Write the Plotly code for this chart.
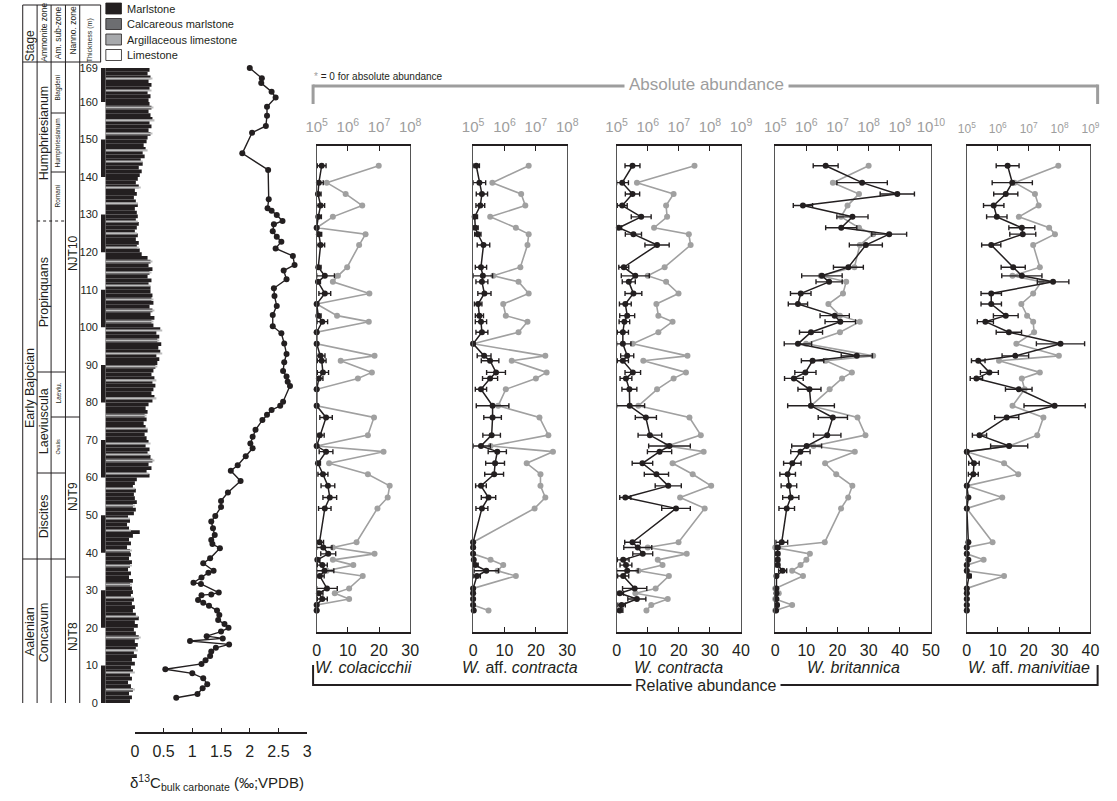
import plotly.graph_objects as go

# ======================= DATA =======================
thickness_ticks = [0, 10, 20, 30, 40, 50, 60, 70, 80, 90, 100, 110, 120, 130, 140, 150, 160, 169]

d13c_height = [1.4, 2.4, 3.9, 5.0, 6.6, 7.9, 9.0, 10.4, 11.4, 12.5, 13.7, 14.7, 15.6, 16.5, 17.2, 17.8,
               19.0, 20.0, 21.0, 22.1, 23.4, 24.6, 25.9, 26.7, 27.4, 28.7, 28.9, 29.4, 31.7, 32.0, 33.4,
               34.7, 35.2, 37.2, 38.5, 41.2, 42.3, 43.4, 44.7, 46.5, 48.3, 49.8, 52.2, 53.8, 56.0, 59.1,
               61.8, 63.3, 65.7, 67.8, 69.1, 70.9, 72.7, 75.3, 76.7, 78.0, 79.1, 80.2, 84.4, 85.5, 86.9,
               88.4, 90.7, 92.9, 95.7, 98.4, 100.3, 103.3, 105.7, 108.3, 110.4, 112.8, 115.1, 116.6,
               119.0, 121.0, 122.8, 124.1, 125.6, 127.4, 128.3, 129.9, 131.0, 131.7, 134.1, 141.9,
               146.3, 151.8, 153.6, 156.3, 158.7, 161.2, 162.7, 165.0, 166.3, 169.0]
d13c_value = [0.72, 1.09, 1.18, 1.26, 1.19, 1.00, 0.53, 1.16, 1.23, 1.31, 1.33, 1.41, 1.64, 0.96, 1.53, 1.25,
              1.50, 1.63, 1.56, 1.45, 1.47, 1.43, 1.29, 1.19, 1.10, 1.16, 1.33, 1.46, 1.15, 1.02, 1.16,
              1.28, 1.37, 1.19, 1.31, 1.48, 1.35, 1.33, 1.39, 1.36, 1.33, 1.40, 1.50, 1.50, 1.62, 1.84,
              1.67, 1.79, 1.93, 2.05, 2.01, 2.05, 2.10, 2.22, 2.30, 2.38, 2.53, 2.58, 2.70, 2.66, 2.64,
              2.58, 2.60, 2.64, 2.60, 2.55, 2.40, 2.40, 2.47, 2.43, 2.42, 2.64, 2.59, 2.78,
              2.75, 2.45, 2.55, 2.47, 2.40, 2.42, 2.57, 2.47, 2.38, 2.31, 2.33, 2.32,
              1.87, 2.04, 2.28, 2.30, 2.30, 2.45, 2.38, 2.20, 2.21, 2.00]

# lithology log width (relative units), one value per metre from 0 m upward
lith_width = [25, 27, 24, 28, 26, 23, 27, 25, 28, 26,
              30, 27, 32, 29, 31, 33, 30, 34, 31, 29,
              33, 30, 34, 31, 28, 30, 27, 29, 26, 28,
              27, 25, 28, 24, 26, 23, 25, 27, 24, 26,
              25, 22, 26, 24, 28, 35, 24, 22, 25, 23,
              29, 31, 28, 32, 30, 29, 31, 28, 30, 32,
              45, 42, 47, 44, 48, 46, 43, 45, 41, 44,
              42, 40, 43, 41, 39, 42, 40, 43, 41, 44,
              48, 50, 47, 49, 51, 48, 50, 47, 49, 51,
              53, 55, 52, 56, 54, 57, 53, 55, 52, 56,
              49, 47, 50, 46, 48, 45, 49, 47, 48, 46,
              46, 44, 47, 43, 45, 48, 44, 46, 43, 37,
              35, 32, 34, 31, 33, 30, 32, 34, 31, 33,
              32, 30, 33, 31, 29, 32, 30, 34, 31, 33,
              35, 37, 34, 38, 36, 40, 38, 41, 39, 42,
              43, 46, 44, 47, 45, 48, 46, 44, 47, 45,
              44, 46, 43, 45, 47, 44, 46, 43, 45]
limestone_beds = [3.5, 8.2, 14.1, 17.5, 23.0, 28.2, 31.5, 36.5, 40.5, 46.0, 49.2, 52.5, 57.1, 61.0,
                  64.5, 66.2, 69.1, 73.0, 76.5, 81.2, 86.0, 89.5, 93.1, 96.5, 99.2, 101.5, 104.5,
                  107.5, 111.2, 114.5, 117.5, 121.2, 125.1, 128.2, 133.1, 137.2, 144.1, 147.2,
                  151.5, 155.2, 158.5, 163.1, 166.2]

legend_labels = ["Marlstone", "Calcareous marlstone", "Argillaceous limestone", "Limestone"]
legend_colors = ["#231f20", "#6d6e71", "#a7a9ac", "#ffffff"]

sample_height = [143.0, 138.5, 135.5, 132.4, 129.4, 126.5, 124.8, 121.9, 116.0, 113.7, 112.1, 109.0,
                 106.2, 103.1, 101.5, 98.7, 95.6, 92.4, 91.1, 88.0, 86.4, 83.5, 79.1, 76.0, 71.3, 68.4,
                 66.9, 63.8, 60.9, 57.8, 54.7, 51.8, 42.8, 41.4, 39.7, 38.1, 36.7, 35.2, 33.8, 30.5,
                 29.2, 27.7, 26.1, 24.6]

# W. colacicchii
colacicchii_abs = [9.8e6, 2.1e5, 8.5e5, 2.9e6, 3.3e5, 0, 3.7e6, 2.3e6, 9.5e5, 4.8e5, 3.3e5, 4.9e6, 0,
                   4.5e5, 4.7e6, 0, 0, 7.2e6, 5.9e5, 5.9e6, 2.1e6, 0, 0, 6.9e6, 4.4e6, 0, 1.4e7, 2.5e5,
                   4.4e6, 2.2e7, 1.9e7, 8.9e6, 1.9e6, 3.3e5, 7.2e6, 3.3e5, 1.5e6, 2.1e5, 3.0e6, 1.1e6,
                   3.8e5, 1.1e6, 0, 0]
colacicchii_rel = [1.6, 0.7, 0.4, 1.25, 0.5, 0, 0.7, 1.25, 0.5, 2.6, 0.4, 2.6, 0, 0.5, 1.8, 0, 0, 1.25,
                   1.6, 2.0, 0.7, 0, 0, 3.0, 1.0, 0, 3.0, 0.4, 2.0, 3.6, 4.2, 2.6, 0.9, 2.1, 3.7, 0.2,
                   1.8, 2.5, 1.0, 3.3, 0.7, 1.8, 0, 0]
colacicchii_err = [1.4, 1.4, 1.0, 1.3, 1.0, 0, 0.9, 1.3, 0.9, 3.1, 0.8, 1.9, 0, 0.9, 1.7, 0, 0, 1.4,
                   1.4, 1.8, 1.3, 0, 0, 2.0, 1.4, 0, 2.2, 0.8, 1.6, 2.2, 2.2, 2.0, 1.3, 2.8, 2.4, 0.8,
                   1.6, 3.0, 1.4, 3.3, 1.3, 1.6, 0, 0]

# W. aff. contracta
affcontracta_abs = [5.9e6, 4.1e5, 3.4e6, 4.6e6, 3.5e5, 2.3e6, 5.9e6, 5.4e6, 3.2e6, 4.4e5, 2.8e6, 5.9e6,
                    9.1e5, 1.1e6, 5.4e6, 2.8e6, 0, 2.0e7, 1.7e6, 2.2e7, 1.0e7, 1.1e6, 6.3e5, 1.3e7,
                    2.5e7, 3.6e5, 3.5e7, 5.1e6, 1.4e7, 1.4e7, 2.0e7, 9.1e6, 0, 0, 0, 3.6e5, 9.1e5,
                    6.0e5, 2.3e6, 0, 0, 0, 0, 3.1e5]
affcontracta_rel = [1.0, 2.0, 2.8, 2.3, 0.5, 0.7, 1.5, 3.3, 2.5, 3.1, 2.8, 3.6, 1.6, 2.0, 2.5, 2.8, 0,
                    3.5, 5.4, 7.3, 5.4, 2.5, 6.2, 6.2, 5.9, 2.5, 7.7, 7.0, 6.7, 2.5, 4.9, 2.8, 0, 0, 0,
                    0.2, 0.7, 4.2, 1.2, 0, 0, 0, 0, 0.2]
affcontracta_err = [1.0, 2.0, 1.8, 1.4, 0.9, 0.9, 1.0, 2.0, 1.8, 3.1, 1.9, 2.1, 1.2, 1.3, 1.8, 1.9, 0,
                    2.2, 2.8, 3.0, 2.4, 1.8, 5.2, 2.8, 2.8, 3.0, 2.9, 3.0, 3.0, 1.7, 2.3, 1.9, 0, 0, 0,
                    0.3, 0.9, 3.9, 1.1, 0, 0, 0, 0, 0.3]

# W. contracta
contracta_abs = [3.2e7, 4.5e5, 6.8e6, 3.9e6, 4.2e6, 1.6e6, 2.1e7, 2.4e7, 3.5e6, 1.0e6, 3.9e6, 9.8e6,
                 1.9e6, 2.2e6, 6.3e6, 2.2e6, 3.3e5, 1.9e7, 7.2e5, 1.7e7, 6.8e6, 2.0e6, 5.0e5, 2.2e7,
                 5.1e7, 4.2e6, 6.3e7, 6.3e6, 2.8e7, 1.1e8, 1.1e7, 6.8e7, 9.8e6, 1.0e6, 1.8e7, 2.1e6,
                 3.0e6, 5.0e5, 4.8e6, 1.8e6, 4.0e5, 4.4e6, 1.3e6, 9.1e5]
contracta_rel = [5.1, 1.8, 5.1, 1.8, 7.9, 0.7, 5.4, 13.0, 2.3, 6.0, 3.9, 5.4, 2.8, 3.4, 2.5, 2.0, 2.0,
                 3.4, 2.0, 5.2, 3.0, 4.1, 4.2, 9.4, 10.7, 17.0, 13.8, 8.3, 12.8, 16.6, 2.8, 19.1, 5.1,
                 6.8, 8.4, 2.1, 3.0, 3.4, 2.1, 5.8, 1.0, 6.5, 1.6, 1.0]
contracta_err = [2.4, 2.0, 2.3, 1.6, 3.2, 0.9, 2.6, 3.9, 1.6, 4.5, 2.1, 2.7, 1.9, 2.4, 1.7, 1.8, 2.6,
                 2.1, 1.8, 2.5, 1.9, 2.4, 4.8, 3.4, 3.8, 6.7, 3.9, 3.3, 3.9, 4.2, 1.8, 4.6, 2.5, 4.5,
                 3.2, 1.9, 1.9, 3.5, 1.8, 3.9, 1.2, 2.9, 1.2, 1.0]

# W. britannica
britannica_abs = [1.0e8, 7.1e6, 4.9e7, 2.1e7, 1.3e7, 4.9e7, 1.4e8, 5.2e7, 3.5e7, 2.9e6, 1.9e7, 1.5e7,
                  5.1e6, 1.2e7, 5.2e7, 1.2e7, 9.8e5, 1.4e8, 4.2e6, 2.9e7, 1.4e7, 5.6e6, 1.4e6, 4.4e7,
                  7.9e7, 1.7e6, 3.6e7, 4.0e6, 9.1e6, 3.0e7, 2.2e7, 1.3e7, 3.9e6, 0, 1.3e6, 1.0e6,
                  6.5e5, 3.5e5, 7.8e5, 0, 1.3e5, 0, 3.5e5, 0]
britannica_rel = [16.2, 27.9, 39.2, 8.9, 24.8, 21.2, 36.6, 29.1, 23.5, 15.0, 17.3, 8.2, 7.3, 19.1, 20.9,
                  11.5, 7.3, 26.2, 12.0, 9.7, 6.0, 11.0, 11.5, 18.5, 16.7, 10.1, 8.1, 5.5, 4.0, 4.4,
                  5.0, 3.7, 2.1, 0.8, 0.8, 0.8, 0.8, 2.4, 0.4, 0.4, 0.4, 0.4, 0.6, 0.3]
britannica_err = [4.0, 8.1, 5.5, 3.1, 5.0, 5.0, 5.6, 5.3, 4.8, 6.5, 4.2, 3.3, 3.1, 4.7, 4.9, 3.7, 4.4,
                  5.0, 3.6, 3.4, 3.0, 3.7, 7.5, 4.7, 4.4, 4.8, 3.1, 2.8, 2.5, 2.5, 2.6, 2.5, 1.9, 0.6,
                  0.6, 0.6, 0.6, 1.3, 0.3, 0.3, 0.3, 0.3, 0.5, 0.3]

# W. aff. manivitiae
affmanivitiae_abs = [9.1e7, 3.5e6, 1.6e7, 2.1e7, 4.8e6, 4.6e7, 7.1e7, 1.4e7, 2.3e7, 3.0e6, 2.6e7, 1.4e7,
                     5.8e6, 8.9e6, 1.4e7, 1.5e7, 4.0e6, 9.5e7, 1.1e6, 2.3e7, 6.0e6, 7.4e6, 3.0e6, 3.0e7,
                     1.9e7, 2.3e6, 0, 1.6e6, 4.6e6, 0, 1.4e6, 0, 6.8e5, 0, 0, 3.5e5, 0, 0, 1.6e6, 0, 0,
                     0, 0, 0]
affmanivitiae_rel = [13.2, 14.7, 12.6, 8.7, 9.7, 17.8, 18.1, 7.9, 15.0, 17.8, 27.9, 7.9, 7.9, 12.6, 6.0,
                     13.6, 30.3, 15.7, 3.7, 7.3, 3.1, 16.8, 28.4, 12.9, 4.1, 13.7, 0, 2.3, 2.1, 0, 0.5,
                     0, 0.5, 0, 0, 0.5, 0, 0, 0.7, 0, 0, 0, 0, 0]
affmanivitiae_err = [3.7, 6.5, 3.9, 3.3, 3.3, 4.2, 4.2, 3.1, 3.9, 6.5, 5.1, 3.3, 3.3, 4.0, 2.6, 4.1,
                     7.8, 4.3, 2.2, 2.9, 2.0, 4.3, 9.9, 3.9, 2.3, 6.0, 0, 1.7, 1.6, 0, 0.3, 0, 0.3, 0,
                     0, 0.3, 0, 0, 0.7, 0, 0, 0, 0, 0]

species_names = ["<i>W. colacicchii</i>", "<i>W.</i> aff. <i>contracta</i>", "<i>W. contracta</i>",
                 "<i>W. britannica</i>", "<i>W.</i> aff. <i>manivitiae</i>"]
rel_max = [30, 30, 40, 50, 40]
abs_max_exp = [8, 8, 9, 10, 9]
abs_min_exp = 5

# ======================= LAYOUT HELPERS =======================
W, H = 1117, 801
BLACK = "#231f20"
GRAY = "#a0a0a0"
FONT = "Liberation Sans, Arial, Helvetica, sans-serif"


def fx(p):
    return p / W


def fy(p):
    return 1 - p / H


Y0, PPM = 703.0, 3.757        # pixel row of 0 m, pixels per metre


def hpx(h):
    return Y0 - PPM * h


def pxh(p):
    return (Y0 - p) / PPM


shapes, ann = [], []


def seg(x0, y0, x1, y1, color=BLACK, width=1.0, dash=None):
    ln = dict(color=color, width=width)
    if dash:
        ln["dash"] = dash
    shapes.append(dict(type="line", xref="paper", yref="paper", x0=fx(x0), y0=fy(y0),
                       x1=fx(x1), y1=fy(y1), line=ln, layer="above"))


def label(x, y, s, size, color=BLACK, angle=0, xanchor="center", bg=None, pad=1):
    a = dict(xref="paper", yref="paper", x=fx(x), y=fy(y), text=s, showarrow=False,
             font=dict(size=size, color=color, family=FONT), textangle=angle,
             xanchor=xanchor, yanchor="middle", borderpad=pad)
    if bg:
        a["bgcolor"] = bg
    ann.append(a)


fig = go.Figure()
lay = dict(width=W, height=H, autosize=False, margin=dict(l=0, r=0, t=0, b=0),
           paper_bgcolor="white", plot_bgcolor="rgba(0,0,0,0)", showlegend=False,
           barmode="overlay", font=dict(family=FONT, color=BLACK))

HR = [-5, 175]
ydom = [fy(hpx(HR[0])), fy(hpx(HR[1]))]

# ---------- delta 13C curve ----------
lay["xaxis"] = dict(domain=[fx(126.7), fx(303.0)], range=[0, 3], anchor="free", position=fy(733),
                    showline=True, linecolor=BLACK, linewidth=1.5, ticks="inside", ticklen=4,
                    tickcolor=BLACK, tickvals=[0, 0.5, 1, 1.5, 2, 2.5, 3],
                    ticktext=["0", "0.5", "1", "1.5", "2", "2.5", "3"],
                    tickfont=dict(size=16, color=BLACK), showgrid=False, zeroline=False,
                    ticklabelstandoff=4)
lay["yaxis"] = dict(domain=ydom, range=HR, visible=False, anchor="x")
fig.add_trace(go.Scatter(x=d13c_value, y=d13c_height, mode="lines+markers", xaxis="x", yaxis="y",
                         line=dict(color=BLACK, width=1.4), marker=dict(size=6, color=BLACK),
                         cliponaxis=False, hoverinfo="skip"))
label(211, 782, "δ<sup>13</sup>C<sub>bulk carbonate</sub> (‰;VPDB)", 15)

# ---------- lithology log ----------
lay["xaxis2"] = dict(domain=[fx(92), fx(165)], range=[-4.7, 68.3], visible=False, anchor="y2")
lay["yaxis2"] = dict(domain=ydom, range=HR, anchor="x2", tickvals=thickness_ticks,
                     ticktext=[str(t) for t in thickness_ticks], ticks="", showline=False,
                     showgrid=False, zeroline=False, tickfont=dict(size=11, color=BLACK),
                     ticklabelstandoff=2)
fig.add_trace(go.Bar(orientation="h", x=lith_width, y=[i + 0.5 for i in range(len(lith_width))],
                     width=1.0, base=0, marker=dict(color=BLACK, line=dict(width=0)),
                     xaxis="x2", yaxis="y2", hoverinfo="skip"))
fig.add_trace(go.Bar(orientation="h", x=[lith_width[int(b)] + 2 for b in limestone_beds],
                     y=limestone_beds, width=0.35, base=0,
                     marker=dict(color="#bdbdbd", line=dict(width=0)),
                     xaxis="x2", yaxis="y2", hoverinfo="skip"))
top_m = thickness_ticks[-1]
scale_starts = list(range(0, top_m, 20))
fig.add_trace(go.Bar(orientation="h", x=[4.7] * len(scale_starts),
                     y=[(a + min(a + 10, top_m)) / 2 for a in scale_starts],
                     width=[min(10, top_m - a) for a in scale_starts], base=-4.7,
                     marker=dict(color=BLACK, line=dict(width=0)),
                     xaxis="x2", yaxis="y2", hoverinfo="skip"))

# legend of lithologies
for i, (lab, col) in enumerate(zip(legend_labels, legend_colors)):
    yc = 8.5 + i * 15.5
    shapes.append(dict(type="rect", xref="paper", yref="paper", x0=fx(97), x1=fx(113),
                       y0=fy(yc - 5.5), y1=fy(yc + 5.5), fillcolor=col,
                       line=dict(color=BLACK, width=0.8)))
    label(117, yc, lab, 11, xanchor="left")

# ---------- stratigraphic table ----------
colx = [12, 26.7, 41, 55.7, 70.3]
for x in colx:
    seg(x, 5, x, 703)
seg(91.7, 5, 91.7, 62)
seg(12, 5, 91.7, 5)
seg(12, 62, 92, 62)
seg(12, 559, 55.7, 559)
seg(26.7, 372, 55.7, 372)
seg(26.7, 473, 55.7, 473)
seg(26.7, 221, 55.7, 221, dash="dot")
seg(41, 417, 70.3, 417)
seg(55.7, 577, 70.3, 577)
seg(41, 113, 55.7, 113)
seg(41, 172, 55.7, 172)

label(19, 46, "Stage", 12, angle=-90)
label(33.5, 32, "Ammonite zone", 8.5, angle=-90)
label(48.3, 33, "Am. sub-zone", 8.5, angle=-90)
label(63, 31, "Nanno. zone", 8.5, angle=-90)
label(81, 40, "Thickness (m)", 7, angle=-90)

label(19.5, 388, "Early Bajocian", 12.5, angle=-90)
label(19.5, 632, "Aalenian", 12.5, angle=-90)
label(34, 133, "Humphriesianum", 12.5, angle=-90)
label(34, 292, "Propinquans", 12.5, angle=-90)
label(34, 421, "Laeviuscula", 12.5, angle=-90)
label(34, 516, "Discites", 12.5, angle=-90)
label(34, 632, "Concavum", 12.5, angle=-90)
label(48.5, 88, "Blagdeni", 6.5, angle=-90)
label(48.5, 143, "Humphriesianum", 6.5, angle=-90)
label(48.5, 196, "Romani", 6.5, angle=-90)
label(48.5, 393, "Laeviu.", 6.5, angle=-90)
label(48.5, 446, "Ovalis", 5.5, angle=-90)
label(63.5, 253, "NJT10", 12, angle=-90)
label(63.5, 497, "NJT9", 12, angle=-90)
label(63.5, 637, "NJT8", 12, angle=-90)

# ---------- species panels ----------
panel_abs = [colacicchii_abs, affcontracta_abs, contracta_abs, britannica_abs, affmanivitiae_abs]
panel_rel = [colacicchii_rel, affcontracta_rel, contracta_rel, britannica_rel, affmanivitiae_rel]
panel_err = [colacicchii_err, affcontracta_err, contracta_err, britannica_err, affmanivitiae_err]
panel_px = [(312.7, 408.3), (472.7, 569.0), (619.5, 746.7), (781.7, 941.0), (977.7, 1104.2)]
top_font = [15, 15, 15, 15, 12]
PTOP, PBOT = 146, 632

for i in range(5):
    L, R = panel_px[i]
    xa, xr, ya = 3 + 2 * i, 4 + 2 * i, 3 + i
    dom = [fx(L), fx(R)]
    exps = list(range(abs_min_exp, abs_max_exp[i] + 1))
    lay[f"xaxis{xa}"] = dict(type="log", domain=dom, range=[abs_min_exp, abs_max_exp[i]], side="top",
                             anchor=f"y{ya}", showline=True, linecolor=BLACK, linewidth=2,
                             ticks="inside", ticklen=5, tickcolor=BLACK, tickwidth=1.2,
                             tickvals=[10 ** e for e in exps],
                             ticktext=[f"10<sup>{e}</sup>" for e in exps],
                             tickfont=dict(size=top_font[i], color="#9d9d9d"),
                             showgrid=False, zeroline=False, ticklabelstandoff=6)
    lay[f"xaxis{xr}"] = dict(domain=dom, range=[0, rel_max[i]], overlaying=f"x{xa}", side="bottom",
                             anchor=f"y{ya}", showline=True, linecolor=BLACK, linewidth=2,
                             ticks="inside", ticklen=5, tickcolor=BLACK, tickwidth=1.2,
                             tickvals=list(range(0, rel_max[i] + 1, 10)),
                             tickfont=dict(size=16, color=BLACK), showgrid=False, zeroline=False,
                             ticklabelstandoff=3)
    lay[f"yaxis{ya}"] = dict(domain=[fy(PBOT), fy(PTOP)], range=[pxh(PBOT), pxh(PTOP)],
                             anchor=f"x{xa}", showline=True, mirror=True, linecolor="#555555",
                             linewidth=1.2, ticks="", showticklabels=False, showgrid=False,
                             zeroline=False, tickvals=[])
    absv, relv, errv = panel_abs[i], panel_rel[i], panel_err[i]
    floor = 10 ** abs_min_exp
    fig.add_trace(go.Scatter(x=[v if v > 0 else floor for v in absv], y=sample_height,
                             mode="lines+markers", xaxis=f"x{xa}", yaxis=f"y{ya}",
                             line=dict(color=GRAY, width=1.6), marker=dict(size=6, color=GRAY),
                             cliponaxis=False, hoverinfo="skip"))
    off = 7.5 * rel_max[i] / (R - L)
    zero_h = [h for h, v in zip(sample_height, absv) if v == 0]
    fig.add_trace(go.Scatter(x=[-off] * len(zero_h), y=zero_h, mode="markers",
                             xaxis=f"x{xr}", yaxis=f"y{ya}",
                             marker=dict(symbol="asterisk-open", size=6,
                                         line=dict(color=GRAY, width=1)),
                             cliponaxis=False, hoverinfo="skip"))
    fig.add_trace(go.Scatter(x=relv, y=sample_height, mode="lines+markers",
                             xaxis=f"x{xr}", yaxis=f"y{ya}",
                             error_x=dict(type="data", array=errv,
                                          arrayminus=[min(e, r) for r, e in zip(relv, errv)],
                                          color=BLACK, thickness=1.4, width=2.5),
                             line=dict(color=BLACK, width=1.5), marker=dict(size=6, color=BLACK),
                             cliponaxis=False, hoverinfo="skip"))
    label((L + R) / 2, 667, species_names[i], 16)

# ---------- brackets ----------
BR_L, BR_R = 309, 1111.5
seg(BR_L, 86, BR_R, 86, color="#9d9d9d", width=3)
seg(BR_L, 84.5, BR_L, 104, color="#9d9d9d", width=3)
seg(BR_R, 84.5, BR_R, 104, color="#9d9d9d", width=3)
label(711, 84, "Absolute abundance", 17, color="#9d9d9d", bg="white", pad=4)
label(308, 76, "<span style='color:#9d9d9d'>*</span> = 0 for absolute abundance", 10, xanchor="left")

seg(BR_L, 685, BR_R, 685, color=BLACK, width=2)
seg(BR_L, 665, BR_L, 686, color=BLACK, width=2)
seg(BR_R, 665, BR_R, 686, color=BLACK, width=2)
label(711, 685, "Relative abundance", 16, bg="white", pad=3)

lay["shapes"] = shapes
lay["annotations"] = ann
fig.update_layout(**lay)
fig.write_html("out.html", include_plotlyjs=True, config={"displayModeBar": False},
               post_script="document.body.style.margin='0';document.body.style.overflow='hidden';")
